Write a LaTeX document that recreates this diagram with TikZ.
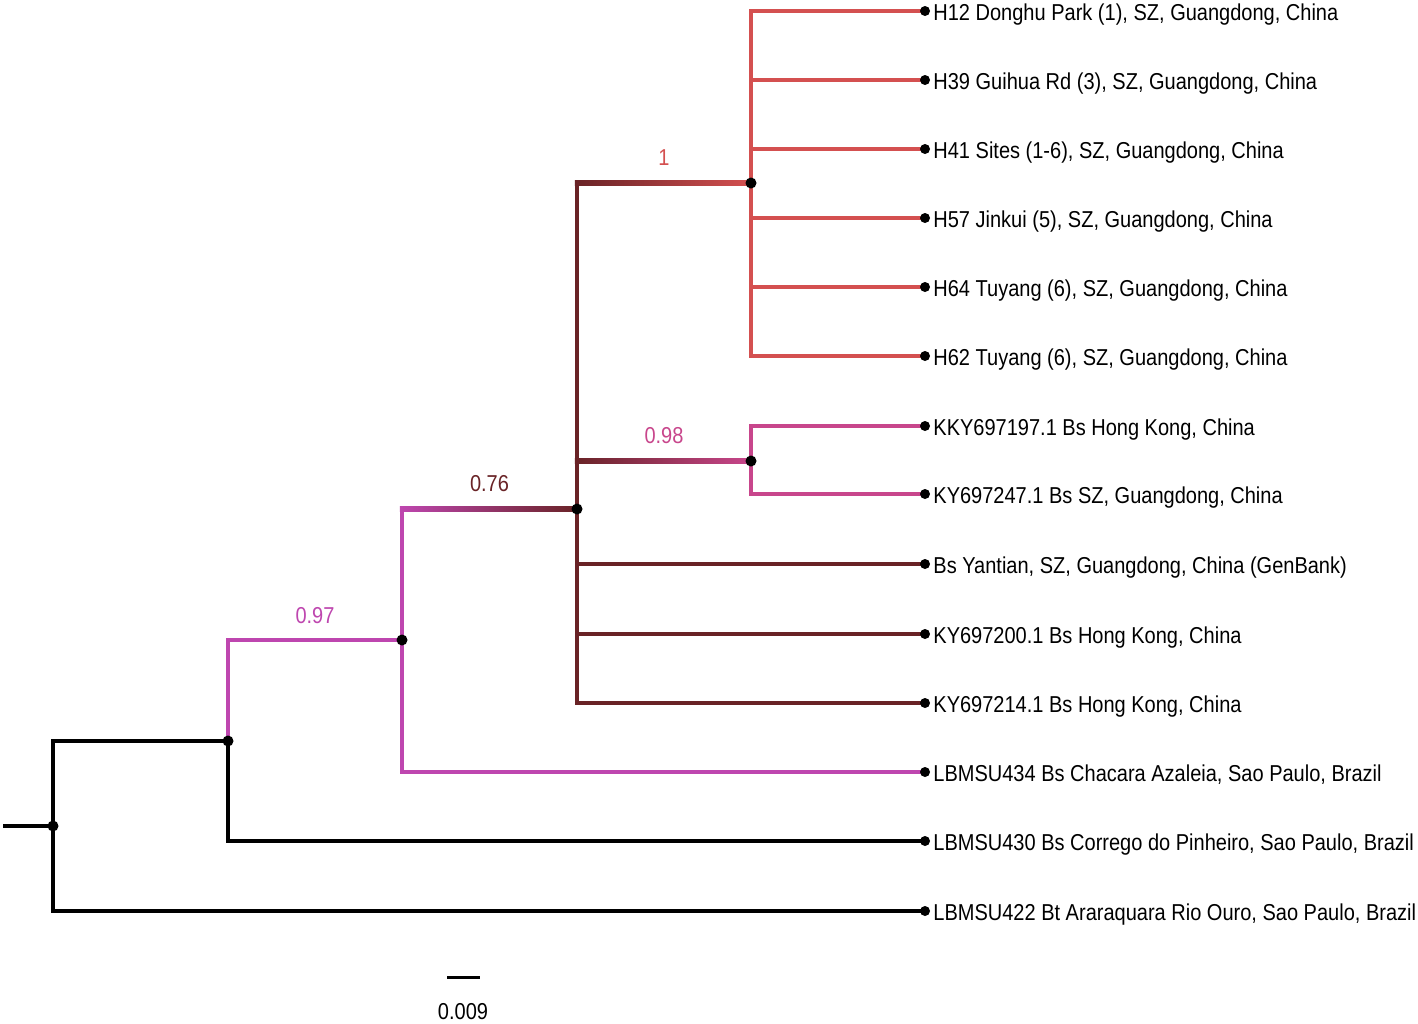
\documentclass[tikz,border=0pt]{standalone}
\usepackage{fontspec}
\newfontfamily\treefont{Liberation Sans}[FakeStretch=0.87]
\usepackage{tikz}
\usetikzlibrary{positioning,calc}
\pgfdeclarelayer{bg}
\pgfsetlayers{bg,main}

\definecolor{cladeRed}{RGB}{212,80,80}
\definecolor{cladePink}{RGB}{200,70,140}
\definecolor{cladeMagenta}{RGB}{190,70,175}
\definecolor{cladeDark}{RGB}{105,35,38}

\tikzset{
  branch/.style={line width=4.5pt, line cap=rect},
  knot/.style={circle, fill=black, inner sep=0pt, minimum size=11pt},
  tipdot/.style={circle, fill=black, inner sep=0pt, minimum size=10pt},
  tiplabel/.style={font=\treefont\fontsize{23}{26}\selectfont, inner sep=1pt, anchor=base west},
  support/.style={font=\treefont\fontsize{23}{26}\selectfont, inner sep=0pt},
}

\begin{document}
\begin{tikzpicture}[x=1pt, y=-1pt]
  \useasboundingbox (0,0) rectangle (1418,1023);

  % internal nodes
  \coordinate (stub) at (5,826);
  \node[knot] (root) at (53,826) {};
  \node[knot] (nA) at (228,741) {};
  \node[knot] (nB) at (402,640) {};
  \node[knot] (nC) at (577,509) {};
  \node[knot] (nD) at (751,183) {};
  \node[knot] (nE) at (751,461) {};

  % tips
  \foreach \y/\n/\txt in {
      11/t1/{H12 Donghu Park (1), SZ, Guangdong, China},
      80/t2/{H39 Guihua Rd (3), SZ, Guangdong, China},
      149/t3/{H41 Sites (1-6), SZ, Guangdong, China},
      218/t4/{H57 Jinkui (5), SZ, Guangdong, China},
      287/t5/{H64 Tuyang (6), SZ, Guangdong, China},
      356/t6/{H62 Tuyang (6), SZ, Guangdong, China},
      426/t7/{KKY697197.1 Bs Hong Kong, China},
      494/t8/{KY697247.1 Bs SZ, Guangdong, China},
      564/t9/{Bs Yantian, SZ, Guangdong, China (GenBank)},
      634/t10/{KY697200.1 Bs Hong Kong, China},
      703/t11/{KY697214.1 Bs Hong Kong, China},
      772/t12/{LBMSU434 Bs Chacara Azaleia, Sao Paulo, Brazil},
      841/t13/{LBMSU430 Bs Corrego do Pinheiro, Sao Paulo, Brazil},
      911/t14/{LBMSU422 Bt Araraquara Rio Ouro, Sao Paulo, Brazil}}
  {
    \node[tipdot] (\n) at (925,\y) {};
    \node[tiplabel] (\n l) at ([xshift=2pt, yshift=-9pt]\n.east) {\txt};
  }

  \begin{pgfonlayer}{bg}
    % backbone
    \draw[branch] (stub) -- (root);
    \draw[branch] (root) |- (nA);
    \draw[branch] (root) |- (t14);
    \draw[branch] (nA) |- (t13);
    \draw[branch, cladeMagenta] (nA) |- (nB);
    \draw[branch, cladeMagenta] (nB) |- (t12);
    % 0.76 clade
    \draw[branch, cladeMagenta] (nB) -- (nB|-nC);
    \shade[left color=cladeMagenta, right color=cladeDark]
      ($(nB|-nC)+(-2.25,-2.25)$) rectangle ($(nC)+(0,2.25)$);
    \foreach \t in {t9,t10,t11}
      \draw[branch, cladeDark] (nC) |- (\t);
    % clade 1
    \draw[branch, cladeDark] (nC) -- (nC|-nD);
    \shade[left color=cladeDark, right color=cladeRed]
      ($(nC|-nD)+(-2.25,-2.25)$) rectangle ($(nD)+(0,2.25)$);
    \foreach \t in {t1,t2,t3,t4,t5,t6}
      \draw[branch, cladeRed] (nD) |- (\t);
    % clade 0.98
    \draw[branch, cladeDark] (nC) -- (nC|-nE);
    \shade[left color=cladeDark, right color=cladePink]
      ($(nC|-nE)+(-2.25,-2.25)$) rectangle ($(nE)+(0,2.25)$);
    \draw[branch, cladePink] (nE) |- (t7);
    \draw[branch, cladePink] (nE) |- (t8);
  \end{pgfonlayer}

  % support values
  \node[support, text=cladeRed] (s1) at ($(nC|-nD)!0.5!(nD)+(0,-25)$) {1};
  \node[support, text=cladePink] (s2) at ($(nC|-nE)!0.5!(nE)+(0,-25)$) {0.98};
  \node[support, text=cladeDark] (s3) at ($(nB|-nC)!0.5!(nC)+(0,-25)$) {0.76};
  \node[support, text=cladeMagenta] (s4) at ($(nA|-nB)!0.5!(nB)+(0,-24)$) {0.97};

  % scale bar
  \coordinate (sbL) at (447,977);
  \coordinate (sbR) at (480,977);
  \draw[line width=3pt] (sbL) -- (sbR);
  \node[support] (sb) at (463,1012) {0.009};
\end{tikzpicture}
\end{document}
